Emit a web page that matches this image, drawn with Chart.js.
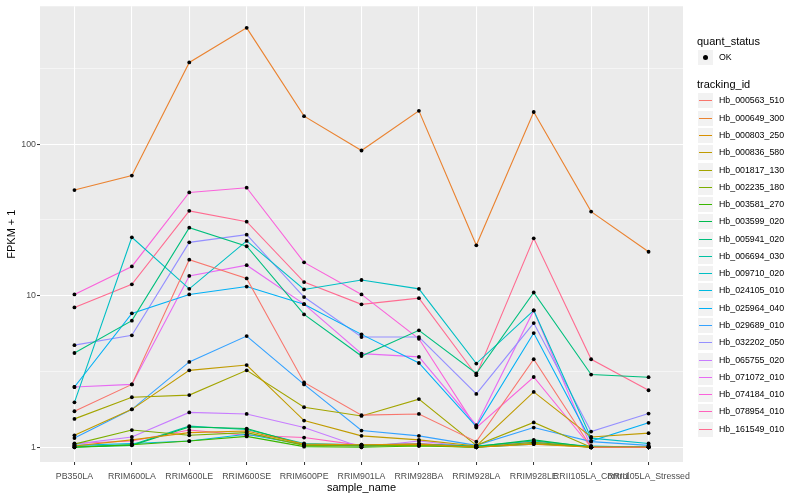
<!DOCTYPE html>
<html>
<head>
<meta charset="utf-8">
<script src="https://cdn.jsdelivr.net/npm/chart.js@4.4.1/dist/chart.umd.min.js"></script>
<style>
  html, body { margin:0; padding:0; background:#fff; }
  #wrap { position:relative; width:800px; height:500px; font-family:"Liberation Sans", Arial, sans-serif; }
  #c { position:absolute; left:0; top:0; }
  .lg { position:absolute; white-space:nowrap; color:#000; }
  .ttl { font-size:11px; }
  .key { position:absolute; width:17px; height:17px; background:#F2F2F2; box-sizing:border-box; border:1px solid #fff; }
  .lbl { position:absolute; font-size:8.8px; line-height:10px; }
</style>
</head>
<body>
<div id="wrap">
  <canvas id="c" width="800" height="500"></canvas>
  <div id="legend"></div>
</div>
<script>
// ---------- data ----------
const categories = ['PB350LA','RRIM600LA','RRIM600LE','RRIM600SE','RRIM600PE','RRIM901LA','RRIM928BA','RRIM928LA','RRIM928LE','RRII105LA_Control','RRII105LA_Stressed'];

const hb_000563_510 = [1.73, 2.6, 17.3, 13.0, 2.68, 1.63, 1.66, 1.09, 3.81, 1.0, 1.0];
const hb_000649_300 = [49.8, 62, 346, 585, 153, 90.8, 166, 21.5, 163, 35.9, 19.5];
const hb_000803_250 = [1.02, 1.12, 1.25, 1.28, 1.05, 1.04, 1.05, 1.0, 1.05, 1.0, 1.0];
const hb_000836_580 = [1.2, 1.78, 3.22, 3.49, 1.5, 1.19, 1.12, 1.02, 2.32, 1.17, 1.24];
const hb_001817_130 = [1.54, 2.14, 2.21, 3.22, 1.84, 1.61, 2.08, 1.03, 1.46, 1.0, 1.0];
const hb_002235_180 = [1.05, 1.30, 1.20, 1.25, 1.03, 1.02, 1.03, 1.0, 1.08, 1.0, 1.0];
const hb_003581_270 = [1.0, 1.04, 1.10, 1.18, 1.01, 1.0, 1.02, 1.0, 1.06, 1.0, 1.0];
const hb_003599_020 = [1.0, 1.03, 1.36, 1.33, 1.04, 1.03, 1.04, 1.01, 1.12, 1.0, 1.0];
const hb_005941_020 = [4.19, 6.85, 28.1, 21.2, 7.53, 4.0, 5.91, 3.07, 10.5, 3.02, 2.90];
const hb_006694_030 = [1.01, 1.04, 1.38, 1.31, 1.06, 1.04, 1.05, 1.02, 1.10, 1.01, 1.0];
const hb_009710_020 = [1.98, 24.3, 11.1, 23.0, 11.0, 12.7, 11.1, 3.57, 8.0, 1.15, 1.06];
const hb_024105_010 = [1.03, 1.06, 1.10, 1.22, 1.04, 1.02, 1.04, 1.0, 1.05, 1.02, 1.0];
const hb_025964_040 = [2.5, 7.65, 10.2, 11.5, 8.8, 5.56, 3.6, 1.37, 5.67, 1.1, 1.45];
const hb_029689_010 = [1.15, 1.78, 3.66, 5.42, 2.6, 1.29, 1.19, 1.03, 1.35, 1.09, 1.03];
const hb_032202_050 = [4.72, 5.48, 22.5, 25.3, 9.8, 5.34, 5.34, 2.25, 6.6, 1.27, 1.67];
const hb_065755_020 = [1.05, 1.17, 1.70, 1.66, 1.35, 1.0, 1.1, 1.0, 1.1, 1.0, 1.0];
const hb_071072_010 = [2.5, 2.6, 13.5, 15.9, 8.8, 4.15, 3.95, 1.4, 8.0, 1.0, 1.0];
const hb_074184_010 = [10.2, 15.6, 48, 51.6, 16.6, 10.2, 5.2, 1.35, 2.91, 1.0, 1.0];
const hb_078954_010 = [1.06, 1.10, 1.30, 1.20, 1.16, 1.03, 1.06, 1.01, 1.08, 1.0, 1.0];
const hb_161549_010 = [8.37, 11.9, 36.3, 30.8, 12.3, 8.77, 9.64, 2.99, 23.9, 3.81, 2.38];

const seriesNames = ['Hb_000563_510','Hb_000649_300','Hb_000803_250','Hb_000836_580','Hb_001817_130','Hb_002235_180','Hb_003581_270','Hb_003599_020','Hb_005941_020','Hb_006694_030','Hb_009710_020','Hb_024105_010','Hb_025964_040','Hb_029689_010','Hb_032202_050','Hb_065755_020','Hb_071072_010','Hb_074184_010','Hb_078954_010','Hb_161549_010'];
const seriesValues = [hb_000563_510, hb_000649_300, hb_000803_250, hb_000836_580, hb_001817_130, hb_002235_180, hb_003581_270, hb_003599_020, hb_005941_020, hb_006694_030, hb_009710_020, hb_024105_010, hb_025964_040, hb_029689_010, hb_032202_050, hb_065755_020, hb_071072_010, hb_074184_010, hb_078954_010, hb_161549_010];
const seriesColors = ['#F8766D','#EA8331','#D89000','#C09B00','#A3A500','#7CAE00','#39B600','#00BB4E','#00BF7D','#00C1A3','#00BFC4','#00BAE0','#00B0F6','#35A2FF','#9590FF','#C77CFF','#E76BF3','#FA62DB','#FF62BC','#FF6C91'];

const yMajorTicks = [1, 10, 100];
const yMinorTicks = [3.1623, 31.623, 316.23];
const quantStatus = ['OK'];

// ---------- chart ----------
const lineSets = seriesValues.map((vals, s) => ({
  type: 'line',
  label: seriesNames[s],
  data: vals.map((v, i) => ({ x: i, y: v })),
  borderColor: seriesColors[s],
  borderWidth: 1.1,
  pointRadius: 0,
  fill: false,
  tension: 0,
  order: 1
}));
const pointSet = {
  type: 'scatter',
  label: 'points',
  data: seriesValues.flatMap(vals => vals.map((v, i) => ({ x: i, y: v }))),
  backgroundColor: '#000',
  borderWidth: 0,
  pointRadius: 1.9,
  order: 0
};

const panelBg = {
  id: 'panelBg',
  beforeDraw(chart) {
    const a = chart.chartArea, ctx = chart.ctx;
    ctx.save();
    ctx.fillStyle = '#EBEBEB';
    ctx.fillRect(a.left, a.top, a.right - a.left, a.bottom - a.top);
    ctx.restore();
  }
};

const isMajor = v => yMajorTicks.some(m => Math.abs(m - v) < 1e-6);

new Chart(document.getElementById('c'), {
  data: { datasets: [pointSet, ...lineSets] },
  options: {
    responsive: false,
    animation: false,
    devicePixelRatio: 1,
    layout: { padding: { top: 5, right: 117, left: 0, bottom: 0 } },
    plugins: { legend: { display: false }, tooltip: { enabled: false } },
    scales: {
      x: {
        type: 'linear',
        min: -0.6, max: 10.6,
        afterBuildTicks: s => { s.ticks = categories.map((_, i) => ({ value: i })); },
        afterFit: s => { s.height = 38; },
        ticks: {
          autoSkip: false, maxRotation: 0, minRotation: 0,
          callback: v => categories[v],
          color: '#4D4D4D',
          font: { family: 'Liberation Sans', size: 8.8 },
          padding: 6
        },
        grid: { color: '#FFFFFF', lineWidth: 1.07, tickColor: '#333333', tickLength: 3, tickWidth: 1 },
        border: { display: false },
        title: { display: true, text: 'sample_name', color: '#000', font: { family: 'Liberation Sans', size: 11 }, padding: { top: 0, bottom: 5 } }
      },
      y: {
        type: 'logarithmic',
        min: 0.80, max: 812,
        afterBuildTicks: s => { s.ticks = [...yMajorTicks, ...yMinorTicks].sort((a, b) => a - b).map(v => ({ value: v })); },
        afterFit: s => { s.width = 40; },
        ticks: {
          callback: v => isMajor(v) ? String(v) : '',
          color: '#4D4D4D',
          font: { family: 'Liberation Sans', size: 8.8 },
          padding: 1
        },
        grid: {
          color: '#FFFFFF',
          lineWidth: c => (c.tick && isMajor(c.tick.value)) ? 1.07 : 0.53,
          tickColor: c => (c.tick && isMajor(c.tick.value)) ? '#333333' : 'rgba(0,0,0,0)',
          tickLength: 3, tickWidth: 1
        },
        border: { display: false },
        title: { display: true, text: 'FPKM + 1', color: '#000', font: { family: 'Liberation Sans', size: 11 }, padding: { top: 5, bottom: 0 } }
      }
    }
  },
  plugins: [panelBg]
});

// ---------- legend (HTML) ----------
(function buildLegend() {
  const lg = document.getElementById('legend');
  const L = 697;
  let html = '';
  html += `<div class="lg ttl" style="left:${L}px;top:35px;">quant_status</div>`;
  quantStatus.forEach((q, i) => {
    const top = Math.round(49 + i * 17.28);
    html += `<div class="key" style="left:${L}px;top:${top}px;"><div style="position:absolute;left:5px;top:5px;width:5px;height:5px;border-radius:2.5px;background:#000;"></div></div>`;
    html += `<div class="lg lbl" style="left:${L + 22}px;top:${top + 3}px;">${q}</div>`;
  });
  html += `<div class="lg ttl" style="left:${L}px;top:78px;">tracking_id</div>`;
  seriesNames.forEach((n, i) => {
    const top = Math.round(92.4 + i * 17.28);
    html += `<div class="key" style="left:${L}px;top:${top}px;"><div style="position:absolute;left:1px;top:7px;width:13px;height:1px;background:${seriesColors[i]};"></div></div>`;
    html += `<div class="lg lbl" style="left:${L + 22}px;top:${top + 3}px;">${n}</div>`;
  });
  lg.innerHTML = html;
})();
</script>
</body>
</html>
